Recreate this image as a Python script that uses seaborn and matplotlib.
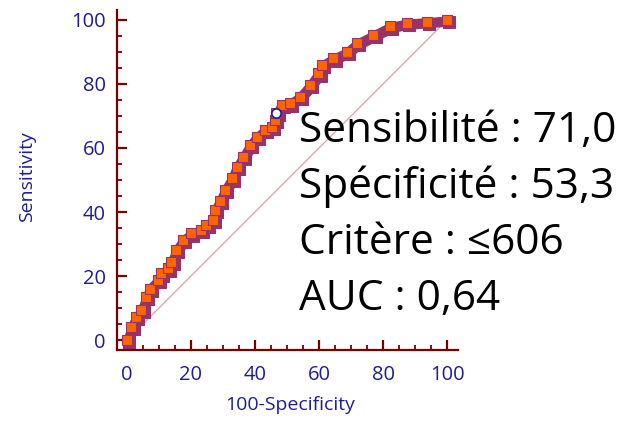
import numpy as np
import pandas as pd
import matplotlib
matplotlib.use("Agg")
import matplotlib.pyplot as plt
import matplotlib.transforms as mtrans
from matplotlib.ticker import MultipleLocator
import seaborn as sns

# ---- data ----
fpr = [0, 1.4, 2.9, 4.5, 6.0, 7.1, 9.7, 10.7, 12.8, 13.9, 15.4, 17.5, 20.1, 23.2,
       24.8, 26.9, 27.4, 29.0, 30.6, 32.7, 34.3, 36.3, 38.4, 40.5, 43.1, 45.2,
       46.3, 46.7, 48.3, 50.9, 54.0, 57.2, 59.8, 60.8, 64.5, 68.7, 71.8, 77.0,
       82.2, 87.4, 93.7, 100]
tpr = [0, 4.2, 7.3, 9.4, 13.5, 16.1, 18.8, 20.8, 22.4, 24.5, 28.1, 31.3, 33.3, 34.4,
       35.9, 37.5, 40.6, 43.5, 46.9, 50.5, 54.2, 57.3, 60.9, 63.5, 65.6, 66.7,
       68.8, 71.0, 73.4, 73.9, 76.0, 79.7, 83.3, 85.9, 88.0, 90.0, 92.7, 95.3,
       98.0, 99.0, 99.5, 100]
diag = [0, 100]
cut_x = [46.7]
cut_y = [71.0]
ticks = [0, 20, 40, 60, 80, 100]
annot_lines = ["Sensibilité : 71,0", "Spécificité : 53,3", "Critère : \u2264606", "AUC : 0,64"]

sns.set_style("white")
plt.rcParams['font.family'] = ['Open Sans', 'DejaVu Sans']

W, H = 623, 423
fig = plt.figure(figsize=(W / 100, H / 100), dpi=100)
ax = fig.add_axes([117 / W, 73 / H, 341 / W, 340 / H])

df = pd.DataFrame({"x": fpr, "y": tpr})
purple = "#993366"
orange = "#ff6600"
navy = "#1f1f8f"
maroon = "#7a0000"

# diagonal reference line
sns.lineplot(x=diag, y=diag, ax=ax, color="#d9a3a3", lw=0.9, zorder=1)

# shadow (offset down-right)
shadow = mtrans.offset_copy(ax.transData, fig=fig, x=2.2, y=-2.2, units='dots')
sns.lineplot(data=df, x="x", y="y", ax=ax, color=purple, lw=6.5, marker='s',
             markersize=8, markerfacecolor=purple, markeredgecolor=purple,
             transform=shadow, zorder=2, sort=False)
# main curve
sns.lineplot(data=df, x="x", y="y", ax=ax, color=purple, lw=5, marker='s',
             markersize=6.5, markerfacecolor=orange, markeredgecolor=purple,
             markeredgewidth=0.8, zorder=3, sort=False)
# criterion point
sns.scatterplot(x=cut_x, y=cut_y, ax=ax, s=45, color="white", edgecolor=navy,
                linewidth=1.2, zorder=5)

ax.set_xlim(-3.1, 103.4)
ax.set_ylim(-3.1, 103.1)
ax.set_xticks(ticks)
ax.set_yticks(ticks)
ax.xaxis.set_minor_locator(MultipleLocator(5))
ax.yaxis.set_minor_locator(MultipleLocator(5))

for side in ["top", "right"]:
    ax.spines[side].set_visible(False)
for side in ["left", "bottom"]:
    ax.spines[side].set_color(maroon)
    ax.spines[side].set_linewidth(1.6)

ax.tick_params(axis='both', which='both', bottom=True, left=True, top=False, right=False)
ax.tick_params(axis='both', which='major', direction='in', length=7, width=1.6,
               color=maroon, labelcolor=navy, labelsize=14.5)
ax.tick_params(axis='both', which='minor', direction='in', length=3.8, width=1.3,
               color=maroon)
ax.tick_params(axis='y', which='major', pad=8)
ax.tick_params(axis='x', which='major', pad=11)

ax.set_xlabel("100-Specificity", color=navy, fontsize=14)
ax.set_ylabel("Sensitivity", color=navy, fontsize=14)
ax.xaxis.set_label_coords(0.507, -0.135)
ax.yaxis.set_label_coords(-0.236, 0.509)

baselines = [141.7, 197.5, 253.5, 310]
for txt, b in zip(annot_lines, baselines):
    fig.text(299 / W, 1 - b / H, txt, fontsize=30.5, color="black", va="baseline",
             ha="left")

fig.savefig("out.png", dpi=100)
